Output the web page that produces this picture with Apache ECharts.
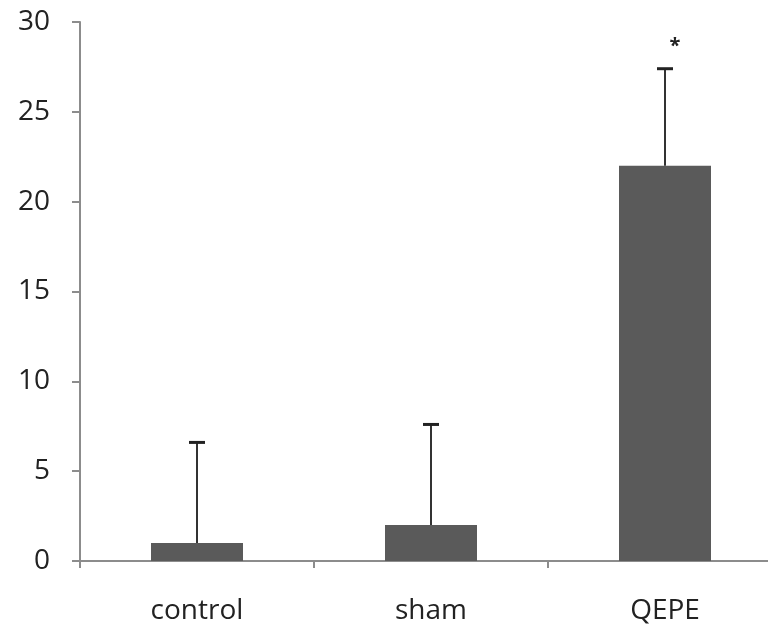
<!DOCTYPE html>
<html>
<head>
<meta charset="utf-8">
<script src="https://cdn.jsdelivr.net/npm/echarts@6/dist/echarts.min.js"></script>
<style>
  html, body { margin: 0; padding: 0; background: #fff; }
  #chart { width: 768px; height: 626px; }
</style>
</head>
<body>
<div id="chart"></div>
<script>
// data
const groups = ['control', 'sham', 'QEPE'];
const means = [1, 2, 22];
const errTops = [6.6, 7.6, 27.4];
const marks = ['', '', '*'];
const yTicks = { min: 0, max: 30, step: 5 };

function errorBarItem(params, api) {
    let i = params.dataIndex;
    let base = api.coord([api.value(0), api.value(1)]);
    let top = api.coord([api.value(0), api.value(2)]);
    let capHalf = 8;
    let style = { stroke: '#333', lineWidth: 2 };
    let children = [
        { type: 'line', shape: { x1: top[0], y1: base[1], x2: top[0], y2: top[1] }, style: style },
        { type: 'line', shape: { x1: top[0] - capHalf, y1: top[1], x2: top[0] + capHalf, y2: top[1] },
          style: { stroke: '#222', lineWidth: 3 } }
    ];
    if (marks[i]) {
        children.push({
            type: 'text',
            style: {
                text: marks[i], x: top[0] + 10, y: top[1] - 22,
                fill: '#222', font: 'bold 20px "Open Sans"',
                align: 'center', verticalAlign: 'middle'
            }
        });
    }
    return { type: 'group', children: children };
}

let myChart = echarts.init(document.getElementById('chart'));
myChart.setOption({
    animation: false,
    grid: { left: 80, width: 702, top: 22, bottom: 65, outerBoundsMode: 'none' },
    xAxis: {
        type: 'category',
        data: groups,
        axisLine: { lineStyle: { color: '#8c8c8c', width: 2 } },
        axisTick: { show: true, length: 7, lineStyle: { color: '#8c8c8c', width: 2 } },
        axisLabel: { color: '#222', fontSize: 28, fontFamily: 'Open Sans', margin: 36 }
    },
    yAxis: {
        type: 'value',
        min: yTicks.min,
        max: yTicks.max,
        interval: yTicks.step,
        splitLine: { show: false },
        axisLine: { show: true, lineStyle: { color: '#8c8c8c', width: 2 } },
        axisTick: { show: true, length: 8, lineStyle: { color: '#8c8c8c', width: 2 } },
        axisLabel: { color: '#222', fontSize: 28, fontFamily: 'Open Sans', margin: 30 }
    },
    series: [
        {
            type: 'bar',
            data: means,
            barWidth: 92,
            itemStyle: { color: '#5a5a5a' }
        },
        {
            type: 'custom',
            renderItem: errorBarItem,
            data: groups.map((g, i) => [i, means[i], errTops[i]]),
            z: 10
        }
    ]
});
</script>
</body>
</html>
